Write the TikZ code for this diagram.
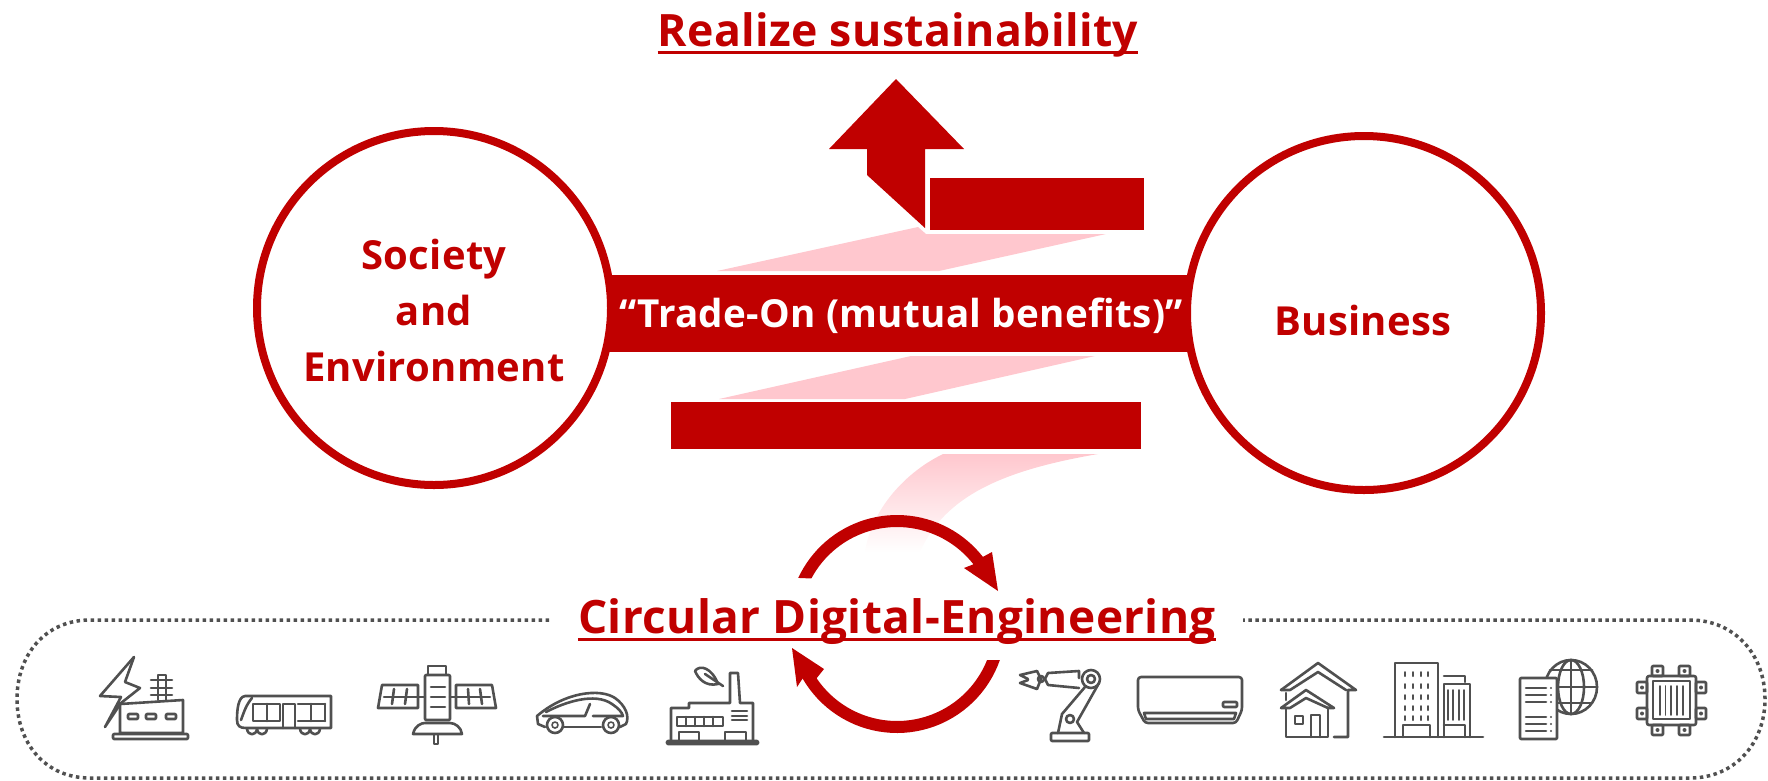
\documentclass[tikz,border=0pt]{standalone}
\usepackage{fontspec}
\setmainfont{Open Sans}
\newfontfamily\labelfont[LetterSpace=0.8]{Open Sans}
\definecolor{brandred}{HTML}{C00000}
\definecolor{bandpink}{HTML}{FFC7CE}
\definecolor{iconcol}{HTML}{505050}
\tikzset{
  ring/.style={circle,draw=brandred,line width=8pt,fill=white,minimum size=354pt,inner sep=0pt},
  bigtxt/.style={text=brandred,inner sep=0pt,anchor=base,font=\labelfont\bfseries\fontsize{46}{50}\selectfont},
  midtxt/.style={text=brandred,align=center,inner sep=0pt,font=\labelfont\bfseries\fontsize{40}{56}\selectfont},
  ruleline/.style={draw=brandred,line width=3pt},
  dotline/.style={draw=iconcol,line width=3.5pt,dash pattern=on 3.5pt off 3.5pt},
  icon/.style={draw=iconcol,line width=2.6pt,line join=round,line cap=round},
}
\begin{document}
\begin{tikzpicture}[x=1pt,y=-1pt]
  \useasboundingbox (0,0) rectangle (1768,780);
  % pink bands
  \fill[bandpink] (717,271) -- (939,271) -- (1106,234) -- (926,234) -- (918,227) -- cycle;
  \fill[bandpink] (719,399) -- (905,399) -- (1095,356) -- (911,356) -- cycle;
  \shade[top color=bandpink,bottom color=white] (943,454) .. controls (900,475) and (870,515) .. (865,552) -- (920,552) .. controls (945,495) and (1005,470) .. (1098,454) -- cycle;
  % red bars and the up arrow
  \fill[brandred] (896,79) -- (964,149) -- (925,149) -- (925,228) -- (867,175) -- (867,149) -- (829,149) -- cycle;
  \fill[brandred] (930,178) rectangle (1144,230);
  \fill[brandred] (671,402) rectangle (1141,449);
  \fill[brandred] (600,275) rectangle (1200,352);
  % two circles
  \node[ring] (society) at (434,308) {};
  \node[ring] (business) at (1364,313) {};
  \node[midtxt] (societytxt) at (434,310) {Society\\and\\Environment};
  \node[midtxt] (businesstxt) at (1363,320) {Business};
  \node[midtxt,text=white,font=\labelfont\bfseries\fontsize{38.6}{50}\selectfont] (tradeon) at (901,316) {“Trade-On (mutual benefits)”};
  % titles
  \node[bigtxt,font=\labelfont\bfseries\fontsize{44.6}{50}\selectfont] (realize) at (898,46) {Realize sustainability};
  \draw[ruleline] ([yshift=-6pt]realize.base west) -- ([yshift=-6pt]realize.base east);
  \node[bigtxt] (circular) at (897,633) {Circular Digital-Engineering};
  \draw[ruleline] ([yshift=-6pt]circular.base west) -- ([yshift=-6pt]circular.base east);
  % round arrows
  \fill[brandred] plot[domain=-155:-38,samples=40] ({897+109*cos(\x)},{624+109*sin(\x)}) -- (992,552) -- (998,591) -- (964,568) -- plot[domain=-38:-152,samples=40] ({897+97*cos(\x)},{624+97*sin(\x)}) -- cycle;
  \fill[brandred] plot[domain=19.3:150,samples=40] ({897+109*cos(\x)},{624+109*sin(\x)}) -- (797,687) -- (792,648) -- (824,669) -- plot[domain=146:21.8,samples=40] ({897+97*cos(\x)},{624+97*sin(\x)}) -- cycle;
  % dotted frame
  \draw[dotline] (549,620) -- (90,620) .. controls (45,620) and (17,655) .. (17,699) .. controls (17,743) and (45,778) .. (90,778) -- (1690,778) .. controls (1735,778) and (1765,743) .. (1765,699) .. controls (1765,655) and (1735,620) .. (1690,620) -- (1243,620);
  % power plant
  \draw[icon] (134,657) -- (100,696) -- (121,697) -- (105,727) -- (121,703);
  \draw[icon] (134,657) -- (125,682) -- (140,688) -- (121,703);
  \draw[icon] (120,704) -- (183,700) -- (183,733) -- (120,733) -- cycle;
  \draw[icon,rounded corners=1pt] (113,734) rectangle (188,739);
  \foreach \xw in {133,151,171} \draw[icon,rounded corners=1pt] (\xw-5,714) rectangle (\xw+5,719);
  \draw[icon] (158,700) -- (158,675) -- (166,675) -- (166,700);
  \foreach \yl in {680,688,695} \draw[icon] (151,\yl) -- (172,\yl);
  % train
  \draw[icon] (245,696) -- (331,696) -- (331,728) -- (246,728) .. controls (240,728) and (237,726) .. (237,720) .. controls (237,710) and (238,697) .. (245,696);
  \draw[icon] (252,698) .. controls (246,705) and (244,712) .. (241,720);
  \draw[icon] (253,704) rectangle (280,721);
  \draw[icon] (283,728) -- (283,704) -- (295,704) -- (295,728);
  \draw[icon] (325,704) -- (298,704);\draw[icon] (325,721) -- (298,721);\draw[icon] (325,704) -- (325,721);\draw[icon] (311,704) -- (311,721);\draw[icon] (267,704) -- (267,721);
  \foreach \xw in {252,262,305,315} \draw[icon] (\xw-5,729) .. controls (\xw-4,736) and (\xw+4,736) .. (\xw+5,729);
  % satellite
  \draw[icon,rounded corners=1pt] (425,675) rectangle (450,720);
  \draw[icon] (428,674) -- (428,666) -- (446,666) -- (446,674);
  \foreach \yl in {687,697,707} \draw[icon] (431,\yl) -- (445,\yl);
  \draw[icon] (382,685) -- (418,685) -- (418,708) -- (378,708) -- cycle;
  \draw[icon] (456,685) -- (492,685) -- (496,708) -- (456,708) -- cycle;
  \draw[icon] (384,697) -- (425,697);\draw[icon] (450,697) -- (490,697);
  \draw[icon] (394,689) -- (392,704);\draw[icon] (407,689) -- (405,704);
  \draw[icon] (468,689) -- (469,704);\draw[icon] (480,689) -- (482,704);
  \draw[icon] (413,734) .. controls (415,725) and (422,723) .. (425,723) -- (450,723) .. controls (455,723) and (461,727) .. (462,734) -- cycle;
  \draw[icon] (434,735) -- (434,744) -- (438,744) -- (438,735);
  % car
  \draw[icon] (545,727) -- (538,724) -- (537,716) .. controls (565,692) and (600,688) .. (615,698) .. controls (625,705) and (630,716) .. (626,724) -- (620,727);
  \draw[icon] (564,727) -- (601,727);
  \draw[icon] (546,712) .. controls (565,702) and (595,692) .. (612,704) .. controls (618,708) and (622,712) .. (623,716) -- (593,716);
  \draw[icon] (543,716) -- (585,716) -- (590,704);
  \foreach \xw in {555,611} {\draw[icon,fill=white] (\xw,725) circle[radius=8pt];\draw[icon,line width=1.6pt] (\xw,725) circle[radius=3pt];}
  % factory
  \draw[icon,rounded corners=1pt] (667,741) rectangle (758,744);
  \draw[icon] (671,741) -- (671,708) -- (689,708) -- (689,703) -- (730,703) -- (730,673) -- (738,673) -- (740,703) -- (753,703) -- (753,741);
  \draw[icon] (677,717) rectangle (723,726);
  \foreach \xw in {686,695,704,713} \draw[icon] (\xw,717) -- (\xw,726);
  \foreach \yl in {711,716,720} \draw[icon] (732,\yl) -- (747,\yl);
  \draw[icon] (679,741) -- (679,732) -- (699,732) -- (699,741);
  \draw[icon] (725,741) -- (725,732) -- (746,732) -- (746,741);
  \draw[icon] (695,671) .. controls (700,664) and (712,668) .. (718,684) .. controls (705,687) and (698,678) .. (695,671);
  \draw[icon] (705,674) -- (723,686);
  % robot arm
  \draw[icon] (1037,671) -- (1020,675) -- (1028,679);\draw[icon] (1037,689) -- (1020,683) -- (1028,680);
  \draw[icon] (1037,671) -- (1041,679) -- (1037,689);
  \draw[icon] (1041,679) circle[radius=3pt];
  \draw[icon] (1048,673) -- (1079,671) -- (1079,678);\draw[icon] (1048,685) -- (1079,688);
  \draw[icon] (1048,673) -- (1045,679) -- (1048,685);
  \draw[icon] (1091,679) ellipse[x radius=9pt,y radius=9pt];\draw[icon] (1091,679) circle[radius=4pt];
  \draw[icon] (1085,687) -- (1062,714) -- (1058,733);
  \draw[icon] (1099,683) -- (1077,722) -- (1084,733);
  \draw[icon] (1070,719) circle[radius=4pt];
  \draw[icon,rounded corners=1pt] (1051,733) rectangle (1089,741);
  % air conditioner
  \draw[icon,rounded corners=3pt] (1138,690) -- (1138,677) -- (1242,677) -- (1242,710) -- (1236,723) -- (1145,723) -- (1138,710) -- cycle;
  \draw[icon] (1144,713) -- (1236,713) -- (1234,719) -- (1146,719) -- cycle;
  \draw[icon,rounded corners=1pt] (1223,702) rectangle (1237,707);
  % house
  \draw[icon] (1281,690) -- (1318,663) -- (1356,690) -- (1348,690) -- (1348,737) -- (1334,737);
  \draw[icon] (1281,690) -- (1290,690) -- (1318,672) -- (1346,690);
  \draw[icon] (1286,693) -- (1286,700);
  \draw[icon] (1281,708) -- (1306,690) -- (1334,708) -- (1328,708) -- (1306,698) -- (1290,708) -- cycle;
  \draw[icon] (1286,708) -- (1286,737) -- (1328,737) -- (1328,708);
  \draw[icon] (1311,737) -- (1311,715) -- (1320,715) -- (1320,737);
  \draw[icon] (1295,716) rectangle (1303,724);
  % buildings
  \draw[icon] (1384,737) -- (1483,737);
  \draw[icon] (1395,737) -- (1395,663) -- (1438,663) -- (1438,737);
  \foreach \xw in {1405,1413,1421,1428} \foreach \yl in {672,684,695,706,716} \draw[icon,line width=2pt] (\xw,\yl) -- (\xw,\yl+4);
  \draw[icon] (1403,737) -- (1403,725) -- (1430,725) -- (1430,737);
  \draw[icon] (1444,737) -- (1444,684) -- (1470,684) -- (1470,737);
  \draw[icon] (1444,676) -- (1465,676) -- (1465,682);
  \foreach \xw in {1448,1453,1459,1464} \draw[icon,line width=1.6pt] (\xw,690) -- (\xw,720);
  \draw[icon] (1444,725) -- (1465,725) -- (1465,737);
  % document and globe
  \draw[icon] (1571,687) ellipse[x radius=26pt,y radius=27pt];
  \draw[icon] (1571,687) ellipse[x radius=13pt,y radius=27pt];
  \draw[icon] (1571,660) -- (1571,714);\draw[icon] (1545,687) -- (1597,687);
  \draw[icon] (1550,670) -- (1592,670);\draw[icon] (1550,703) -- (1592,703);
  \draw[icon,fill=white,rounded corners=1pt] (1520,678) rectangle (1557,739);
  \foreach \yl in {688,695,702,717,724,731} {\draw[icon] (1526,\yl) -- (1546,\yl);\fill[iconcol] (1551,\yl) circle[radius=1.2pt];}
  % chip
  \foreach \xw in {1652,1679} {\draw[icon,rounded corners=1pt] (\xw,666) rectangle (\xw+11,676);\draw[icon,rounded corners=1pt] (\xw,725) rectangle (\xw+11,735);\fill[iconcol] (\xw+5.5,671) circle[radius=2pt];\fill[iconcol] (\xw+5.5,730) circle[radius=2pt];}
  \foreach \yl in {682,708} {\draw[icon,rounded corners=1pt] (1637,\yl) rectangle (1647,\yl+11);\draw[icon,rounded corners=1pt] (1696,\yl) rectangle (1706,\yl+11);\fill[iconcol] (1642,\yl+5.5) circle[radius=2pt];\fill[iconcol] (1701,\yl+5.5) circle[radius=2pt];}
  \draw[icon,rounded corners=2pt] (1647,676) rectangle (1696,725);
  \draw[icon] (1653,681) rectangle (1690,719);
  \foreach \xw in {1660,1665.5,1671,1677,1683} \draw[icon,line width=1.8pt] (\xw,686) -- (\xw,715);
\end{tikzpicture}
\end{document}
